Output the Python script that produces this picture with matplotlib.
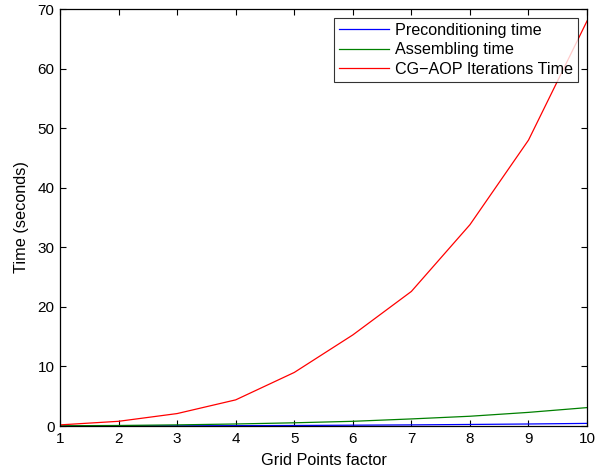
import matplotlib
matplotlib.use("Agg")
import matplotlib.pyplot as plt

plt.rcParams['font.family'] = ['Liberation Sans', 'DejaVu Sans']

x = [1, 2, 3, 4, 5, 6, 7, 8, 9, 10]
precond = [0.01, 0.02, 0.04, 0.07, 0.1, 0.15, 0.2, 0.27, 0.35, 0.45]
assemble = [0.05, 0.1, 0.2, 0.35, 0.55, 0.8, 1.2, 1.65, 2.3, 3.1]
cg_aop = [0.2, 0.8, 2.1, 4.4, 9.0, 15.3, 22.6, 33.8, 48.0, 68.0]

xticks = [1, 2, 3, 4, 5, 6, 7, 8, 9, 10]
yticks = [0, 10, 20, 30, 40, 50, 60, 70]

fig = plt.figure(figsize=(5.96, 4.75), dpi=100)
ax = fig.add_axes([0.1007, 0.103, 0.8843, 0.878])
ax.plot(x, precond, color='#0000ff', lw=0.9, label='Preconditioning time')
ax.plot(x, assemble, color='#008000', lw=0.9, label='Assembling time')
ax.plot(x, cg_aop, color='#ff0000', lw=0.9, label='CG\u2212AOP Iterations Time')

ax.set_xlim(1, 10)
ax.set_ylim(0, 70)
ax.set_xticks(xticks)
ax.set_yticks(yticks)
ax.tick_params(direction='in', top=True, right=True, labelsize=11, length=4, width=0.8, pad=4)
for s in ax.spines.values():
    s.set_linewidth(0.9)
ax.set_xlabel('Grid Points factor', fontsize=11.7, labelpad=5)
ax.set_ylabel('Time (seconds)', fontsize=11.7, labelpad=6)

leg = ax.legend(loc='upper right', fontsize=11.6, frameon=True, fancybox=False,
                edgecolor='black', borderaxespad=0.55, handlelength=3.1,
                labelspacing=0.28, borderpad=0.3, handletextpad=0.4)
leg.get_frame().set_linewidth(0.8)

fig.savefig('out.png', dpi=100)
